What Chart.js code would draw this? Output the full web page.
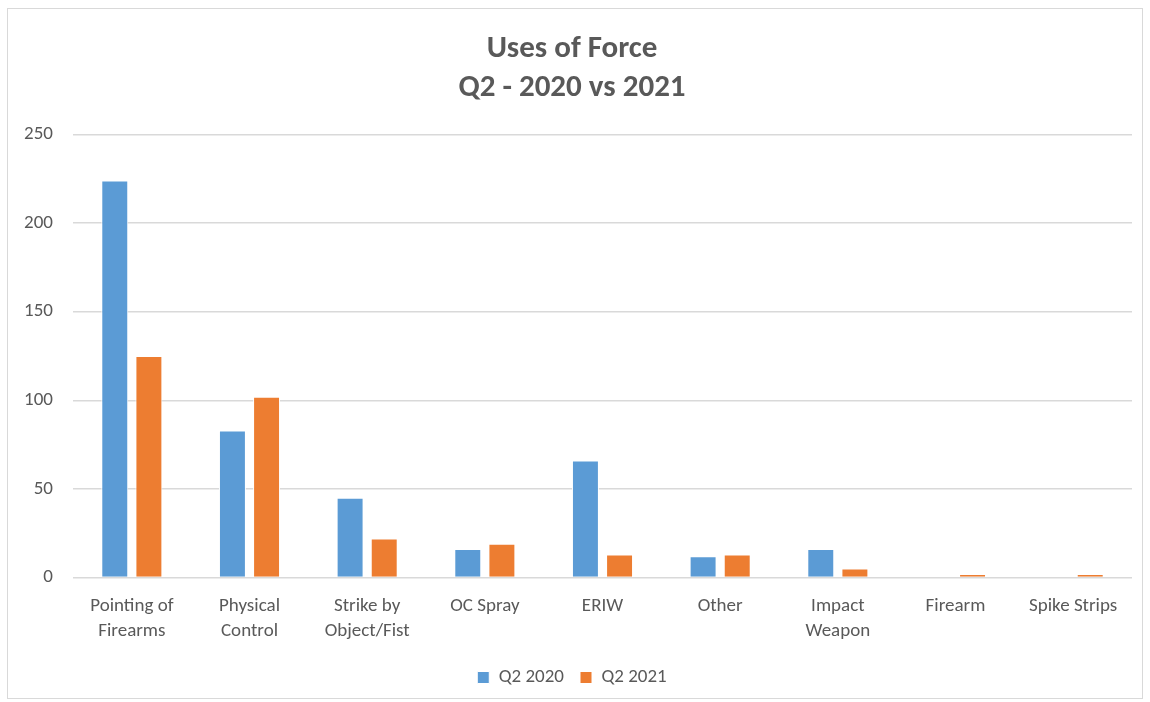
<!DOCTYPE html>
<html>
<head>
<meta charset="utf-8">
<script src="https://cdn.jsdelivr.net/npm/chart.js@4.4.0/dist/chart.umd.min.js"></script>
<style>
  html, body { margin: 0; padding: 0; background: #fff; }
  #wrap { position: relative; width: 1150px; height: 702px; }
  #frame { position: absolute; left: 7px; top: 8px; width: 1136px; height: 691px; border: 1px solid #d9d9d9; box-sizing: border-box; pointer-events: none; }
</style>
</head>
<body>
<div id="wrap">
  <canvas id="forceChart" width="1150" height="702"></canvas>
  <div id="frame"></div>
</div>
<script>
// Uses of force, Q2 2020 vs Q2 2021
const categories = [
  ['Pointing of', 'Firearms'],
  ['Physical', 'Control'],
  ['Strike by', 'Object/Fist'],
  'OC Spray',
  'ERIW',
  'Other',
  ['Impact', 'Weapon'],
  'Firearm',
  'Spike Strips'
];
const q2020 = [224, 83, 45, 16, 66, 12, 16, 0, 0];
const q2021 = [125, 102, 22, 19, 13, 13, 5, 2, 2];
const yTicks = [0, 50, 100, 150, 200, 250];

const grey = '#595959';
const font = 'Calibri, Carlito, "Open Sans", "Liberation Sans", sans-serif';

const ctx = document.getElementById('forceChart').getContext('2d');
const chart = new Chart(ctx, {
  type: 'bar',
  data: {
    labels: categories,
    datasets: [{
      label: 'Q2 2020',
      data: q2020,
      backgroundColor: '#5b9bd5',
      borderColor: '#ffffff',
      borderWidth: 1,
      categoryPercentage: 0.58,
      barPercentage: 0.79
    }, {
      label: 'Q2 2021',
      data: q2021,
      backgroundColor: '#ed7d31',
      borderColor: '#ffffff',
      borderWidth: 1,
      categoryPercentage: 0.58,
      barPercentage: 0.79
    }]
  },
  options: {
    responsive: false,
    animation: false,
    layout: { padding: { top: 30, right: 18, bottom: 5, left: 12 } },
    plugins: {
      title: {
        display: true,
        text: ['Uses of Force', 'Q2 - 2020 vs 2021'],
        color: grey,
        font: { family: font, size: 31, weight: 'bold', lineHeight: 1.25 },
        padding: { top: 0, bottom: 27 }
      },
      legend: {
        position: 'bottom',
        labels: {
          color: grey,
          font: { family: font, size: 19 },
          boxWidth: 12,
          boxHeight: 12,
          padding: 16
        }
      },
      tooltip: { enabled: false }
    },
    scales: {
      x: {
        grid: { display: false },
        border: { display: false },
        ticks: {
          color: grey,
          font: { family: font, size: 19, lineHeight: 1.33 },
          maxRotation: 0,
          padding: 8
        }
      },
      y: {
        min: 0,
        max: 250,
        afterBuildTicks: axis => { axis.ticks = yTicks.map(v => ({ value: v })); },
        grid: { color: '#d9d9d9', lineWidth: 1.5, drawTicks: false },
        border: { display: false },
        ticks: {
          color: grey,
          font: { family: font, size: 19 },
          padding: 20
        },
        afterFit: axis => { axis.width = 61; }
      }
    }
  }
});
</script>
</body>
</html>
